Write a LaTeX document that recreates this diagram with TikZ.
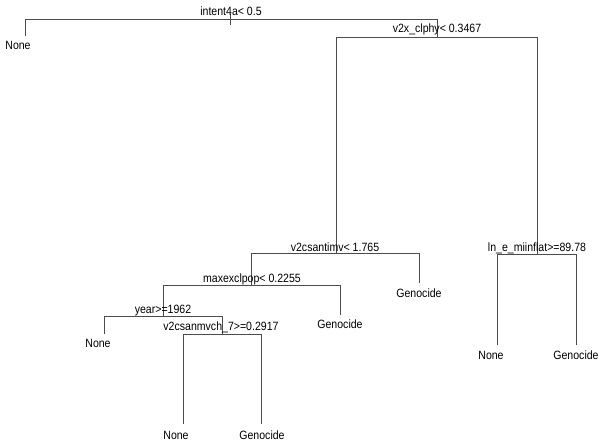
\documentclass[tikz,border=0pt]{standalone}
\usepackage{graphicx}
\usepackage{fontspec}
\setmainfont{Liberation Sans}
\newcommand{\rtxt}[1]{\scalebox{0.88}[1]{\fontsize{12}{14}\selectfont #1}}
\begin{document}
\begin{tikzpicture}[x=1pt,y=-1pt,
  edge/.style={draw=black!70,line width=0.6pt},
  lbl/.style={anchor=base,inner sep=0pt}]
\useasboundingbox (0,0) rectangle (600,441);
% split coordinates
\coordinate (r) at (230,19);
\coordinate (rL) at (25,19);
\coordinate (rR) at (437,19);
\coordinate (a) at (437,37);
\coordinate (aL) at (336,37);
\coordinate (aR) at (537,37);
\coordinate (b) at (336,253);
\coordinate (bL) at (251,253);
\coordinate (bR) at (419,253);
\coordinate (c) at (537,254);
\coordinate (cL) at (497,254);
\coordinate (cR) at (576,254);
\coordinate (d) at (251,285);
\coordinate (dL) at (163,285);
\coordinate (dR) at (340,285);
\coordinate (e) at (163,316);
\coordinate (eL) at (104,316);
\coordinate (eR) at (222,316);
\coordinate (f) at (222,334);
\coordinate (fL) at (183,334);
\coordinate (fR) at (261,334);
% leaf ends
\coordinate (l1) at (25,36);
\coordinate (l2) at (419,283);
\coordinate (l3) at (497,345);
\coordinate (l4) at (576,345);
\coordinate (l5) at (340,315);
\coordinate (l6) at (104,334);
\coordinate (l7) at (183,424);
\coordinate (l8) at (261,424);
\coordinate (rt) at (230,14);
\coordinate (rb) at (230,25);
% edges
\path[edge] (rt) -- (rb);
\path[edge] (l1) -- (rL) -- (rR) -- (a);
\path[edge] (b) -- (aL) -- (aR) -- (c);
\path[edge] (d) -- (bL) -- (bR) -- (l2);
\path[edge] (l3) -- (cL) -- (cR) -- (l4);
\path[edge] (e) -- (dL) -- (dR) -- (l5);
\path[edge] (l6) -- (eL) -- (eR) -- (f);
\path[edge] (l7) -- (fL) -- (fR) -- (l8);
% split labels
\node[lbl] (t1) at (231,16) {\rtxt{intent4a< 0.5}};
\node[lbl] (t2) at (437,33) {\rtxt{v2x\_clphy< 0.3467}};
\node[lbl] (t3) at (335,251) {\rtxt{v2csantimv< 1.765}};
\node[lbl] (t4) at (537,251) {\rtxt{ln\_e\_miinflat>=89.78}};
\node[lbl] (t5) at (252,282) {\rtxt{maxexclpop< 0.2255}};
\node[lbl] (t6) at (163,313) {\rtxt{year>=1962}};
\node[lbl] (t7) at (221,330) {\rtxt{v2csanmvch\_7>=0.2917}};
% leaf labels
\node[lbl] (n1) at (18,50) {\rtxt{None}};
\node[lbl] (n2) at (419,297) {\rtxt{Genocide}};
\node[lbl] (n3) at (491,359) {\rtxt{None}};
\node[lbl] (n4) at (576,359) {\rtxt{Genocide}};
\node[lbl] (n5) at (340,328) {\rtxt{Genocide}};
\node[lbl] (n6) at (98,347) {\rtxt{None}};
\node[lbl] (n7) at (176,439) {\rtxt{None}};
\node[lbl] (n8) at (262,439) {\rtxt{Genocide}};
\end{tikzpicture}
\end{document}
